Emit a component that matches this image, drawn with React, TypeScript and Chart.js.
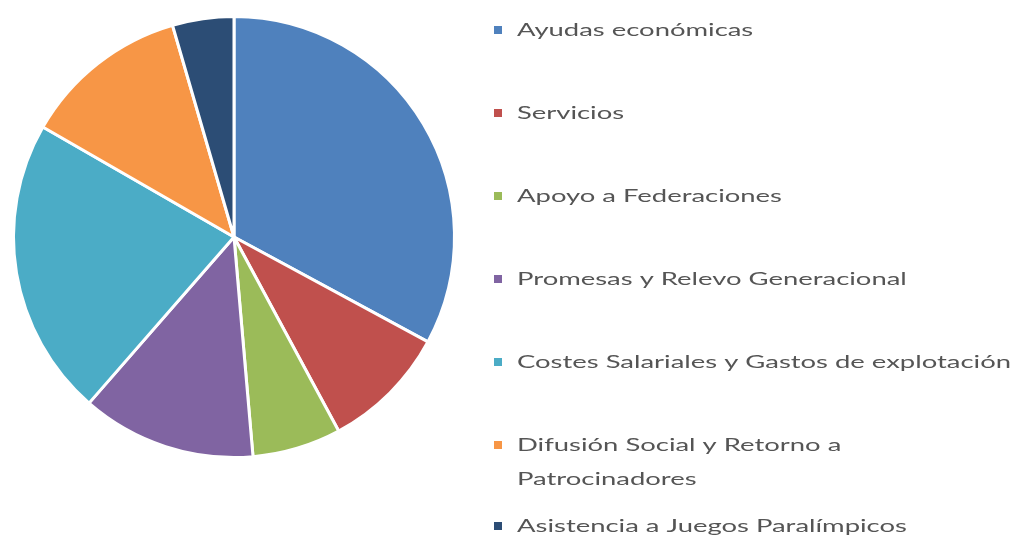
import React, { useEffect, useRef } from "react";
import { Chart, registerables } from "chart.js";

Chart.register(...registerables);

const labels: string[] = [
  "Ayudas económicas",
  "Servicios",
  "Apoyo a Federaciones",
  "Promesas y Relevo Generacional",
  "Costes Salariales y Gastos de explotación",
  "Difusión Social y Retorno a Patrocinadores",
  "Asistencia a Juegos Paralímpicos",
];

const values: number[] = [32.9, 9.25, 6.5, 12.8, 21.9, 12.2, 4.5];

const colors: string[] = [
  "#4F81BD",
  "#C0504D",
  "#9BBB59",
  "#8064A2",
  "#4BACC6",
  "#F79646",
  "#2C4D75",
];

const LEGEND = {
  squareX: 494,
  squareSize: 8,
  textX: 517,
  refLabel: 4,
  refWidth: 494,
  firstY: 30,
  step: 83,
  lineHeight: 34,
  lastGap: 47,
  font: "18px Lato",
  color: "#555555",
};

const legendPlugin = {
  id: "sideLegend",
  afterDraw(chart: any) {
    const ctx: CanvasRenderingContext2D = chart.ctx;
    const labs: string[] = chart.data.labels;
    const cols: string[] = chart.data.datasets[0].backgroundColor;
    ctx.save();
    ctx.font = LEGEND.font;
    const refW = ctx.measureText(labs[LEGEND.refLabel]).width;
    const sx = LEGEND.refWidth / refW;
    const wrapWidth = refW + 1;
    ctx.textBaseline = "middle";
    let y = LEGEND.firstY;
    labs.forEach((lab, i) => {
      const words = lab.split(" ");
      const lines: string[] = [];
      let cur = "";
      for (const w of words) {
        const test = cur ? cur + " " + w : w;
        if (ctx.measureText(test).width > wrapWidth && cur) {
          lines.push(cur);
          cur = w;
        } else cur = test;
      }
      if (cur) lines.push(cur);
      ctx.fillStyle = cols[i];
      ctx.fillRect(
        LEGEND.squareX,
        Math.round(y - LEGEND.squareSize / 2),
        LEGEND.squareSize,
        LEGEND.squareSize
      );
      ctx.fillStyle = LEGEND.color;
      lines.forEach((ln, k) => {
        ctx.save();
        ctx.translate(LEGEND.textX, y + k * LEGEND.lineHeight);
        ctx.scale(sx, 1);
        ctx.fillText(ln, 0, 0);
        ctx.restore();
      });
      const lastLineY = y + (lines.length - 1) * LEGEND.lineHeight;
      const nextIsLast = i === labs.length - 2;
      y = lastLineY + (lines.length > 1 && nextIsLast ? LEGEND.lastGap : LEGEND.step);
    });
    ctx.restore();
  },
};

export default function App() {
  const ref = useRef<HTMLCanvasElement | null>(null);
  useEffect(() => {
    if (!ref.current) return;
    const chart = new Chart(ref.current, {
      type: "pie",
      data: {
        labels,
        datasets: [
          {
            data: values,
            backgroundColor: colors,
            borderColor: "#ffffff",
            borderWidth: 3,
          },
        ],
      },
      options: {
        responsive: false,
        animation: false,
        devicePixelRatio: 1,
        layout: { padding: { left: 12, top: 15, right: 562, bottom: 84 } },
        plugins: {
          legend: { display: false },
          tooltip: { enabled: false },
        },
      },
      plugins: [legendPlugin],
    });
    return () => chart.destroy();
  }, []);
  return (
    <div style={{ position: "absolute", left: 0, top: 0, width: 1018, height: 543, background: "#fff" }}>
      <canvas ref={ref} width={1018} height={543} />
    </div>
  );
}
